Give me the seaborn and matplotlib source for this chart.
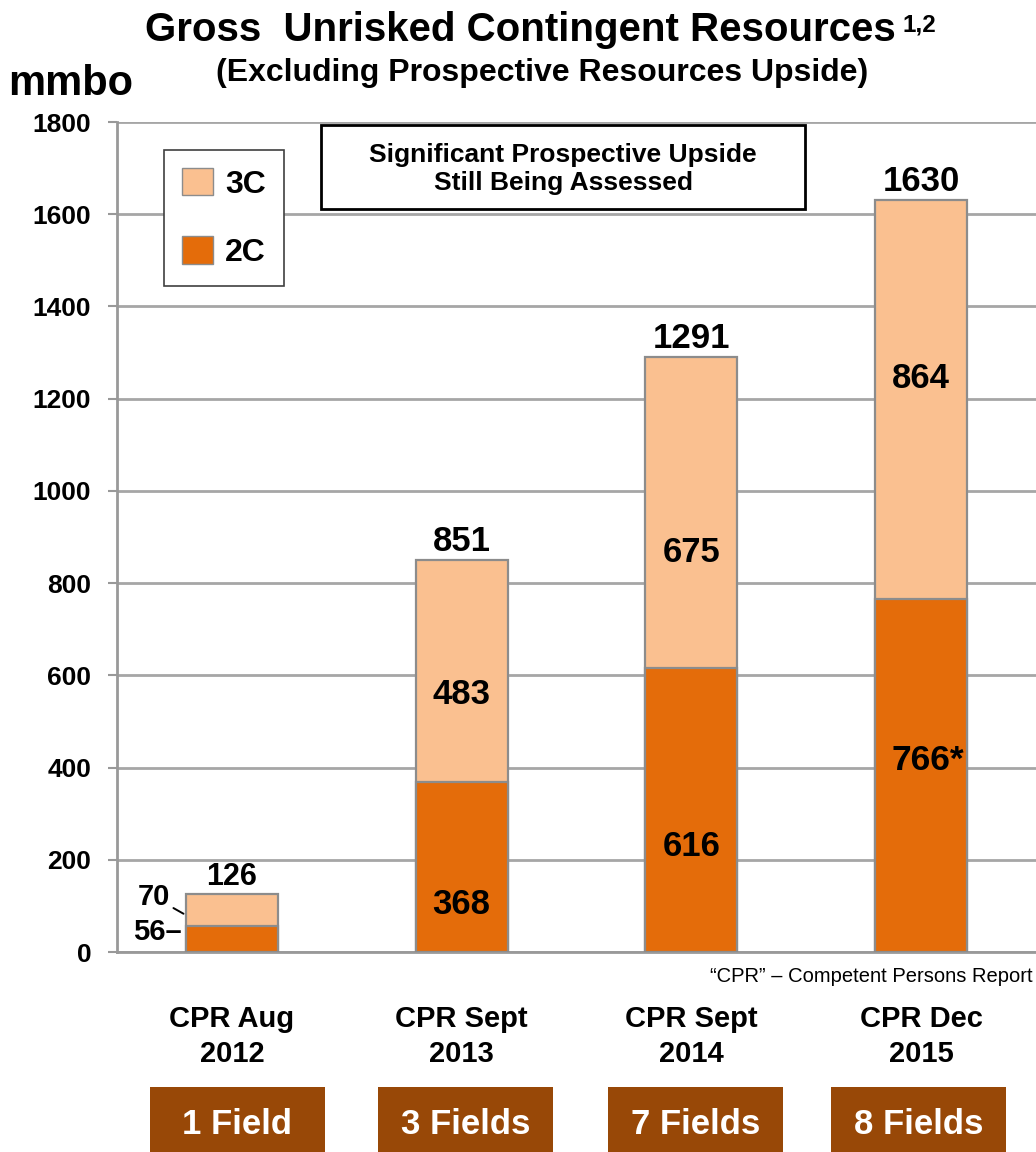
import matplotlib
matplotlib.use("Agg")
import matplotlib.pyplot as plt
from matplotlib import font_manager
from matplotlib.patches import Patch, Rectangle
import seaborn as sns
import pandas as pd

# ---- data ----
categories = ["CPR Aug\n2012", "CPR Sept\n2013", "CPR Sept\n2014", "CPR Dec\n2015"]
values_2c = [56, 368, 616, 766]
values_3c = [70, 483, 675, 864]
total_labels = ["126", "851", "1291", "1630"]
labels_2c = ["56", "368", "616", "766*"]
labels_3c = ["70", "483", "675", "864"]
fields = ["1 Field", "3 Fields", "7 Fields", "8 Fields"]
yticks = [0, 200, 400, 600, 800, 1000, 1200, 1400, 1600, 1800]

sns.set_theme(style="white")
avail = {f.name for f in font_manager.fontManager.ttflist}
BASE = "Liberation Sans" if "Liberation Sans" in avail else "DejaVu Sans"
NARROW = "Liberation Sans Narrow" if "Liberation Sans Narrow" in avail else BASE
plt.rcParams["font.family"] = [BASE, "DejaVu Sans"]
plt.rcParams["text.color"] = "black"
plt.rcParams["xtick.color"] = "black"
plt.rcParams["ytick.color"] = "black"

C2 = "#E46C0A"
C3 = "#FAC090"
EDGE = "#8C8C8C"
GRID = "#A6A6A6"
BROWN = "#984807"

W, H = 1036, 1152
fig = plt.figure(figsize=(W / 100, H / 100), dpi=100)
fig.patch.set_facecolor("white")
ax = fig.add_axes([117 / W, 1 - 952 / H, (W - 117) / W, (952 - 122) / H])

totals = [a + b for a, b in zip(values_2c, values_3c)]
df = pd.DataFrame({"cat": categories, "c2": values_2c, "total": totals})

sns.barplot(data=df, x="cat", y="total", color=C3, edgecolor=EDGE, linewidth=1.6,
            width=0.4, saturation=1, ax=ax, zorder=3)
sns.barplot(data=df, x="cat", y="c2", color=C2, edgecolor=EDGE, linewidth=1.6,
            width=0.4, saturation=1, ax=ax, zorder=4)

ax.set_xlim(-0.5, 3.5)
ax.set_ylim(0, 1800)
ax.set_yticks(yticks)
ax.set_yticklabels([str(t) for t in yticks], fontsize=19, fontweight="bold",
                   family=[NARROW, "DejaVu Sans"])
ax.yaxis.grid(True, color=GRID, linewidth=2, zorder=0)
ax.set_axisbelow(True)
for s in ["top", "right"]:
    ax.spines[s].set_visible(False)
for s in ["left", "bottom"]:
    ax.spines[s].set_color("#999999")
    ax.spines[s].set_linewidth(2)
ax.tick_params(axis="y", direction="out", length=6.5, width=1.5, color="#999999", pad=12, left=True)
ax.tick_params(axis="x", length=0, pad=38)
ax.set_xticks(range(len(categories)))
ax.set_xticklabels(categories, fontsize=21, fontweight="bold", family=[NARROW, "DejaVu Sans"],
                   linespacing=1.35)
ax.set_xlabel("")
ax.set_ylabel("")

# totals above bars
tot_sizes = [22, 25, 25, 25]
for i, (t, lab) in enumerate(zip(totals, total_labels)):
    ax.annotate(lab, xy=(i, t), xytext=(0, 1.5), textcoords="offset points",
                ha="center", va="bottom", fontsize=tot_sizes[i], fontweight="bold", zorder=6)

# inner labels (offset in points relative to segment middle)
off2 = [0, -27, -26, 11]
off3 = [0, -17, -29, 15]
for i in range(1, 4):
    ax.annotate(labels_2c[i], xy=(i, values_2c[i] / 2), xytext=(5 if i == 3 else 0, off2[i]),
                textcoords="offset points", ha="center", va="center",
                fontsize=25.5 if i == 3 else 25, fontweight="bold", zorder=6)
    ax.annotate(labels_3c[i], xy=(i, values_2c[i] + values_3c[i] / 2), xytext=(0, off3[i]),
                textcoords="offset points", ha="center", va="center",
                fontsize=25, fontweight="bold", zorder=6)

# small first bar labels
left0 = -0.2
ax.annotate(labels_2c[0] + "\u2013", xy=(left0, values_2c[0] / 2), xytext=(-3, 5),
            textcoords="offset points", ha="right", va="center",
            fontsize=21, fontweight="bold", zorder=6)
ax.annotate(labels_3c[0], xy=(left0, 80), xytext=(-23, 13),
            textcoords="offset points", ha="center", va="center",
            fontsize=21, fontweight="bold", zorder=6,
            arrowprops=dict(arrowstyle="-", color="black", lw=1.4, shrinkA=0, shrinkB=2))

# legend
handles = [Patch(facecolor=C3, edgecolor=EDGE, label="3C"),
           Patch(facecolor=C2, edgecolor=EDGE, label="2C")]
leg = ax.legend(handles=handles, loc="upper left",
                bbox_to_anchor=((164 - 117) / (W - 117), (952 - 150) / (952 - 122)),
                bbox_transform=ax.transAxes, frameon=True, fancybox=False, framealpha=1,
                prop=dict(size=23, weight="bold"), handlelength=0.97, handleheight=0.94,
                labelspacing=1.15, borderpad=0.56, handletextpad=0.38, borderaxespad=0)
leg.get_frame().set_edgecolor("#404040")
leg.get_frame().set_linewidth(1.2)

# annotation box
fig.patches.append(Rectangle((321 / W, 1 - 209 / H), (805 - 321) / W, (209 - 125) / H,
                             transform=fig.transFigure, facecolor="white", edgecolor="black",
                             linewidth=2, zorder=10))
fig.text(563 / W, 1 - 169 / H, "Significant Prospective Upside\nStill Being Assessed",
         ha="center", va="center", fontsize=19, fontweight="bold", linespacing=1.22, zorder=11)

# titles
fig.text(520 / W, 1 - 30 / H, "Gross  Unrisked Contingent Resources", ha="center", va="center",
         fontsize=29, fontweight="bold")
fig.text(903 / W, 1 - 25 / H, "1,2", ha="left", va="center", fontsize=17.5, fontweight="bold")
fig.text(542 / W, 1 - 73 / H, "(Excluding Prospective Resources Upside)", ha="center", va="center",
         fontsize=23, fontweight="bold")
fig.text(8 / W, 1 - 84 / H, "mmbo", ha="left", va="center", fontsize=30, fontweight="bold")

# footnote
fig.text(1033 / W, 1 - 977 / H, "\u201cCPR\u201d \u2013 Competent Persons Report", ha="right",
         va="center", fontsize=14.5)

# field boxes
box_x = [(150, 325), (378, 553), (608, 783), (831, 1006)]
for (x0, x1), lab in zip(box_x, fields):
    fig.patches.append(Rectangle((x0 / W, 0), (x1 - x0) / W, (H - 1087) / H,
                                 transform=fig.transFigure, facecolor=BROWN, edgecolor="none"))
    fig.text((x0 + x1) / 2 / W, 1 - 1124 / H, lab, ha="center", va="center",
             fontsize=25, fontweight="bold", color="white")

fig.savefig("out.png", dpi=100, facecolor="white")
